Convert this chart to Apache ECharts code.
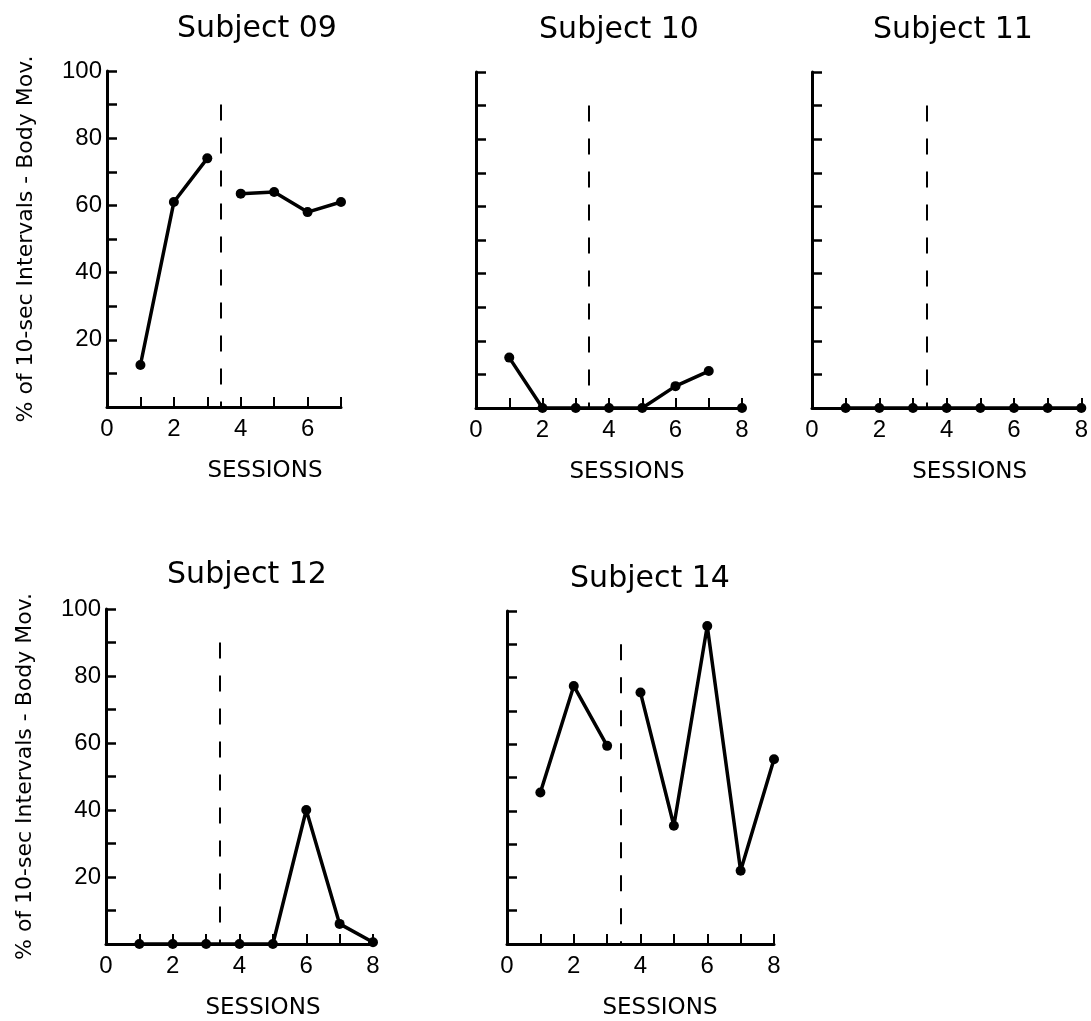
<!DOCTYPE html>
<html>
<head>
<meta charset="utf-8">
<title>Body movement by subject</title>
<style>
  html, body { margin: 0; padding: 0; background: #fff; }
  #main { width: 1091px; height: 1021px; }
</style>
</head>
<body>
<div id="main"></div>
<script src="https://cdn.jsdelivr.net/npm/echarts@6.0.0/dist/echarts.min.js"></script>
<script>
// % of 10-sec intervals with body movement, per session
var subjects = ['Subject 09', 'Subject 10', 'Subject 11', 'Subject 12', 'Subject 14'];
var sessions = [1, 2, 3, 4, 5, 6, 7, 8];
var sub09 = [12.5, 61, 74, 63.5, 64, 58, 61, null];
var sub10 = [15, 0, 0, 0, 0, 6.5, 11, 0];
var sub11 = [0, 0, 0, 0, 0, 0, 0, 0];
var sub12 = [0, 0, 0, 0, 0, 40, 6, 0.5];
var sub14 = [45.5, 77.5, 59.5, 75.5, 35.5, 95.5, 22, 55.5];
// which sessions are joined by a line: [first, last]
var runs09 = [[1, 3], [4, 7]];
var runs10 = [[1, 7], [8, 8]];
var runs11 = [[1, 8]];
var runs12 = [[1, 8]];
var runs14 = [[1, 3], [4, 8]];
// phase change (dashed line) position, in sessions
var phaseChange = 3.4;
var phaseTop = 90;

var values = [sub09, sub10, sub11, sub12, sub14];
var runs = [runs09, runs10, runs11, runs12, runs14];

var FONT = 'DejaVu Sans';
var NUM_FONT = 'Liberation Sans';
var yTitle = '% of 10-sec Intervals - Body Mov.';

var panels = [
  { grid: { left: 107, top: 71, width: 234, height: 336 }, xMax: 7, yLabels: true, shift: 82, title: [257, 14] },
  { grid: { left: 476, top: 72, width: 266, height: 336 }, xMax: 8, yLabels: false, shift: 36, title: [619, 15] },
  { grid: { left: 812, top: 72, width: 271, height: 336 }, xMax: 8, yLabels: false, shift: 46, title: [953, 15] },
  { grid: { left: 106, top: 609, width: 267, height: 336 }, xMax: 8, yLabels: true, shift: 47, title: [247, 560] },
  { grid: { left: 507, top: 611, width: 267, height: 335 }, xMax: 8, yLabels: false, shift: 39, title: [650, 564] }
];

var grids = [], xAxes = [], yAxes = [], series = [], graphics = [];

panels.forEach(function (p, i) {
  grids.push(p.grid);

  xAxes.push({
    type: 'value', gridIndex: i, min: 0, max: p.xMax, interval: 1,
    axisLine: { lineStyle: { color: '#000', width: 3 } },
    axisTick: { inside: true, length: 10, lineStyle: { color: '#000', width: 2 } },
    axisLabel: {
      margin: 10, color: '#000', fontSize: 24, fontFamily: NUM_FONT,
      formatter: function (v) { return v % 2 === 0 ? v : ''; }
    },
    splitLine: { show: false },
    name: 'SESSIONS', nameLocation: 'middle', nameGap: 53,
    nameTextStyle: { color: '#000', fontSize: 23, fontFamily: FONT, padding: [0, 0, 0, p.shift] }
  });

  var yAxis = {
    type: 'value', gridIndex: i, min: 0, max: 100, interval: 10,
    axisLine: { show: true, lineStyle: { color: '#000', width: 3 } },
    axisTick: { show: true, inside: true, length: 10, lineStyle: { color: '#000', width: 2.5 } },
    axisLabel: {
      margin: 5, color: '#000', fontSize: 24, fontFamily: NUM_FONT,
      formatter: function (v) { return (p.yLabels && v > 0 && v % 20 === 0) ? v : ''; }
    },
    splitLine: { show: false }
  };
  if (p.yLabels) {
    yAxis.name = yTitle;
    yAxis.nameLocation = 'middle';
    yAxis.nameRotate = 90;
    yAxis.nameGap = 70;
    yAxis.nameTextStyle = { color: '#000', fontSize: 22, fontFamily: FONT };
  }
  yAxes.push(yAxis);

  runs[i].forEach(function (r, k) {
    var data = [];
    for (var s = r[0]; s <= r[1]; s++) {
      var v = values[i][s - 1];
      if (v !== null) data.push([sessions[s - 1], v]);
    }
    var item = {
      type: 'line', xAxisIndex: i, yAxisIndex: i, data: data,
      symbol: 'circle', symbolSize: 10, clip: false,
      itemStyle: { color: '#000' },
      lineStyle: { color: '#000', width: 3.5 },
      animation: false
    };
    if (k === 0) {
      item.markLine = {
        silent: true, symbol: 'none', label: { show: false },
        lineStyle: { color: '#000', width: 2, type: [16, 17] },
        data: [[{ coord: [phaseChange, phaseTop] }, { coord: [phaseChange, 0] }]]
      };
    }
    series.push(item);
  });

  graphics.push({
    type: 'text', x: p.title[0], y: p.title[1],
    style: { text: subjects[i], fill: '#000', font: '30px "' + FONT + '"', align: 'center', verticalAlign: 'top' }
  });
});

var chart = echarts.init(document.getElementById('main'));
chart.setOption({
  backgroundColor: '#fff',
  animation: false,
  grid: grids,
  xAxis: xAxes,
  yAxis: yAxes,
  series: series,
  graphic: graphics
});
</script>
</body>
</html>
